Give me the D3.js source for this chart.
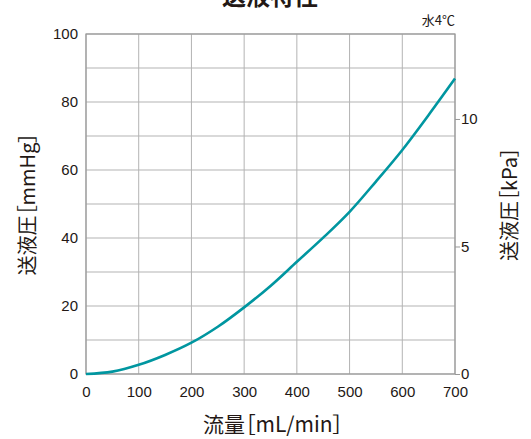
<!DOCTYPE html>
<html>
<head>
<meta charset="utf-8">
<script src="https://cdn.jsdelivr.net/npm/d3@7"></script>
<style>
  body { margin: 0; background: #fff; }
  text { fill: #231815; }
  .jp { font-family: 'Noto Sans CJK JP', sans-serif; font-feature-settings: "palt"; }
</style>
</head>
<body>
<div id="chart"></div>
<script>
// flow [mL/min] vs pressure [mmHg]
const flow = [0, 50, 100, 150, 200, 250, 300, 350, 400, 450, 500, 550, 600, 650, 700];
const pressure = [0, 0.7, 2.7, 5.6, 9.2, 13.9, 19.6, 25.9, 33.0, 40.1, 47.7, 56.6, 65.9, 76.2, 86.9];
const xTicks = [0, 100, 200, 300, 400, 500, 600, 700];
const yTicks = [0, 20, 40, 60, 80, 100];
const kpaTicks = [0, 5, 10];

const width = 531, height = 439;
const margin = {top: 34, right: 76, bottom: 65, left: 86};
const MMHG_PER_KPA = 7.50062;

const svg = d3.select("#chart").append("svg")
  .attr("width", width)
  .attr("height", height);

const x = d3.scaleLinear().domain([0, 700]).range([margin.left, width - margin.right]);
const y = d3.scaleLinear().domain([0, 100]).range([height - margin.bottom, margin.top]);
const yk = d3.scaleLinear().domain([0, 100 / MMHG_PER_KPA]).range(y.range());

const numFont = "'Liberation Sans', Arial, sans-serif";

// grid
svg.append("g")
  .selectAll("line")
  .data(d3.range(0, 701, 100))
  .join("line")
  .attr("x1", d => x(d)).attr("x2", d => x(d))
  .attr("y1", y(0)).attr("y2", y(100))
  .attr("stroke", "#b3b3b3").attr("stroke-width", 1);

svg.append("g")
  .selectAll("line")
  .data(d3.range(0, 101, 10))
  .join("line")
  .attr("x1", x(0)).attr("x2", x(700))
  .attr("y1", d => y(d)).attr("y2", d => y(d))
  .attr("stroke", "#b3b3b3").attr("stroke-width", 1);

// frame
svg.append("rect")
  .attr("x", x(0)).attr("y", y(100))
  .attr("width", x(700) - x(0)).attr("height", y(0) - y(100))
  .attr("fill", "none").attr("stroke", "#999").attr("stroke-width", 1.2);

// axes
const xAxis = svg.append("g")
  .attr("transform", `translate(0,${y(0)})`)
  .call(d3.axisBottom(x).tickValues(xTicks).tickSize(0).tickPadding(12));

const yAxis = svg.append("g")
  .attr("transform", `translate(${x(0)},0)`)
  .call(d3.axisLeft(y).tickValues(yTicks).tickSize(0).tickPadding(8));

const kAxis = svg.append("g")
  .attr("transform", `translate(${x(700)},0)`)
  .call(d3.axisRight(yk).tickValues(kpaTicks).tickSize(5).tickPadding(1));

[xAxis, yAxis, kAxis].forEach(g => {
  g.select(".domain").remove();
  g.selectAll(".tick line").attr("stroke", "#999");
  g.selectAll("text")
    .attr("font-family", numFont)
    .attr("font-size", 15)
    .attr("fill", "#231815");
});

// curve
const line = d3.line()
  .x((d, i) => x(flow[i]))
  .y(d => y(d))
  .curve(d3.curveCatmullRom.alpha(0.5));

svg.append("path")
  .datum(pressure)
  .attr("d", line)
  .attr("fill", "none")
  .attr("stroke", "#0096a0")
  .attr("stroke-width", 2.6);

// titles
svg.append("text")
  .attr("class", "jp")
  .attr("x", 270).attr("y", 5)
  .attr("text-anchor", "middle")
  .attr("font-weight", "bold")
  .attr("font-size", 24)
  .text("送液特性");

svg.append("text")
  .attr("class", "jp")
  .attr("x", x(700)).attr("y", 25)
  .attr("text-anchor", "end")
  .attr("font-size", 13)
  .text("水4℃");

svg.append("text")
  .attr("class", "jp")
  .attr("x", 273).attr("y", 432)
  .attr("text-anchor", "middle")
  .attr("font-size", 21)
  .text("流量［mL/min］");

svg.append("text")
  .attr("class", "jp")
  .attr("transform", `translate(35,${(y(0) + y(100)) / 2}) rotate(-90)`)
  .attr("text-anchor", "middle")
  .attr("font-size", 20)
  .text("送液圧［mmHg］");

svg.append("text")
  .attr("class", "jp")
  .attr("transform", `translate(517,${(y(0) + y(100)) / 2}) rotate(-90)`)
  .attr("text-anchor", "middle")
  .attr("font-size", 20)
  .text("送液圧［kPa］");
</script>
</body>
</html>
